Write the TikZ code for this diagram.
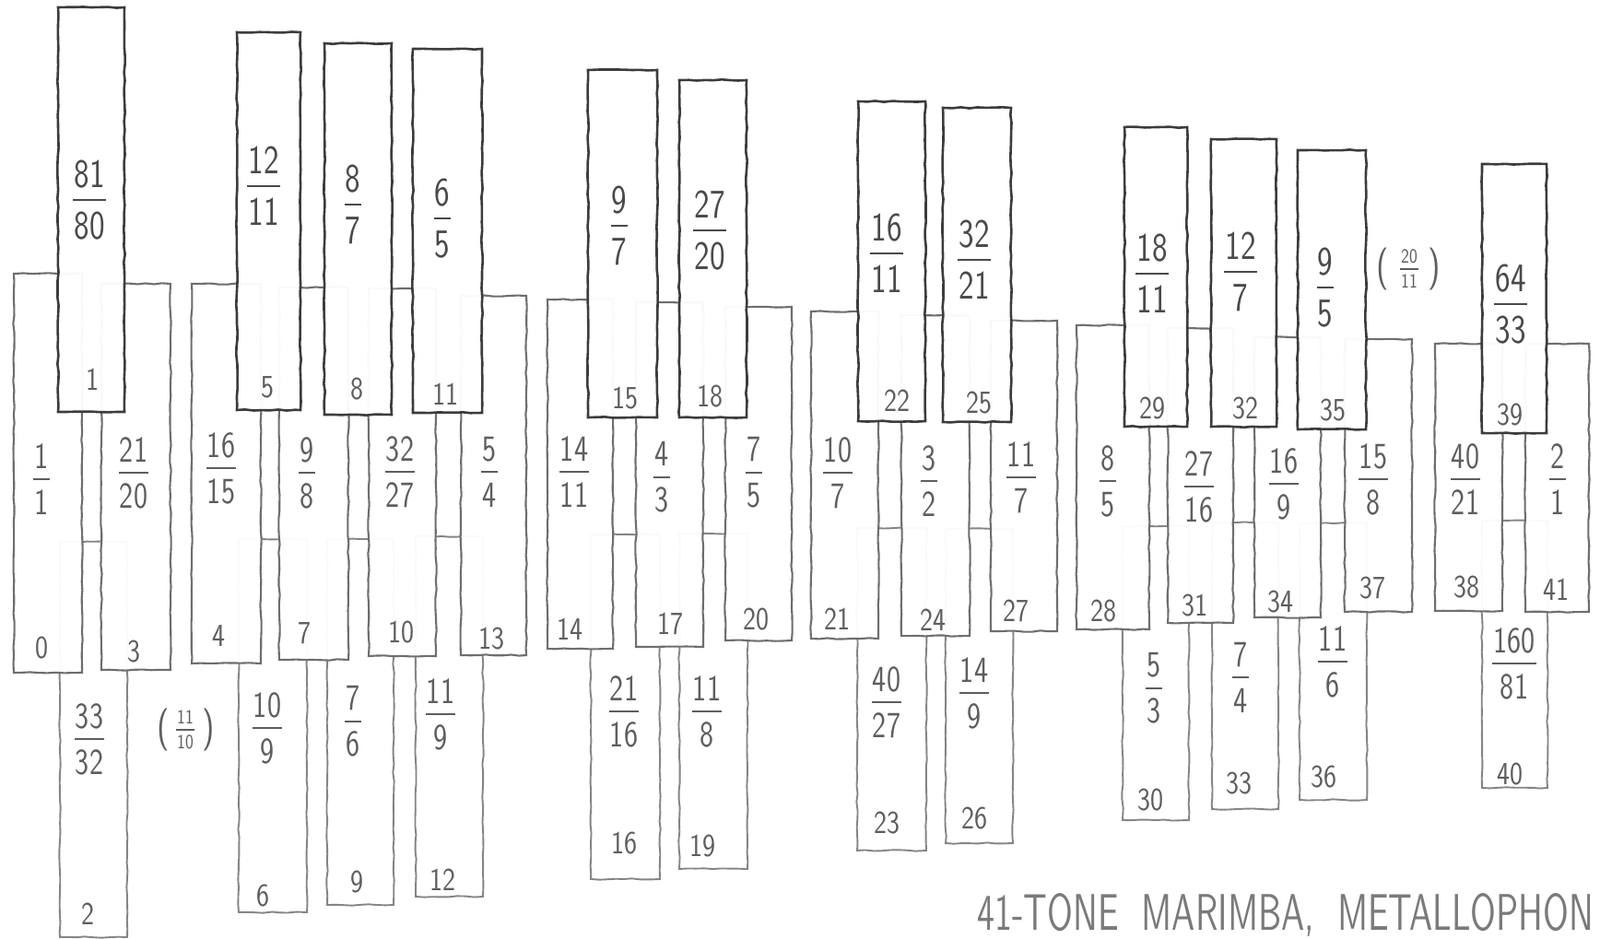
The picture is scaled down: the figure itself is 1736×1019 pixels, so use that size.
\documentclass[tikz,border=0pt]{standalone}
\usepackage{graphicx}
\usetikzlibrary{decorations.pathmorphing}
\definecolor{pencilA}{HTML}{3C3C3C}
\definecolor{pencilB}{HTML}{6E6E6E}
\definecolor{pencilC}{HTML}{858585}
\definecolor{textA}{HTML}{4A4A4A}
\definecolor{textB}{HTML}{5E5E5E}
\definecolor{textC}{HTML}{7A7A7A}
\tikzset{
 hand/.style={decorate, decoration={random steps, segment length=9pt, amplitude=0.7pt}},
 barbase/.style={rectangle, inner sep=0pt, outer sep=0pt, fill=white, fill opacity=0.96, hand},
 topbar/.style={barbase, draw=pencilA, line width=2.6pt},
 midbar/.style={barbase, draw=pencilB, line width=2.1pt},
 lowbar/.style={barbase, draw=pencilC, line width=1.9pt},
 fracA/.style={align=center, inner sep=0pt, xscale=0.8, text=textA, font=\sffamily\fontsize{44}{56}\selectfont},
 fracB/.style={align=center, inner sep=0pt, xscale=0.8, text=textB, font=\sffamily\fontsize{40}{50}\selectfont},
 fracS/.style={align=center, inner sep=0pt, xscale=0.85, text=textB, font=\sffamily\fontsize{22}{27}\selectfont},
 flineA/.style={draw=textA, line width=2.4pt},
 flineB/.style={draw=textB, line width=2pt},
 flineS/.style={draw=textB, line width=1.4pt},
 numlab/.style={inner sep=0pt, xscale=0.85, text=textB, font=\sffamily\fontsize{35}{40}\selectfont},
 paren/.style={inner sep=0pt, xscale=0.8, text=textB, font=\sffamily\fontsize{46}{50}\selectfont},
 titletext/.style={anchor=base west, inner sep=0pt, text=textC, font=\sffamily},
}
% style, name, xl, xr, yt, yb
\newcommand\mkbar[6]{%
  \pgfmathsetmacro\bw{#4-#3}\pgfmathsetmacro\bh{#6-#5}%
  \pgfmathsetmacro\bx{(#3+#4)/2}\pgfmathsetmacro\by{(#5+#6)/2}%
  \node[#1, minimum width=\bw pt, minimum height=\bh pt] (#2) at (\bx,\by) {};}
% style, linestyle, name, x, y, num, den
\newcommand\mkfrac[7]{%
  \node[#1] (#3) at (#4,#5) {#6\\#7};
  \draw[#2] ([xshift=-1pt]#3.west) -- ([xshift=1pt]#3.east);}
\begin{document}
\begin{tikzpicture}[x=1pt,y=-1pt]
\fill[white] (0,0) rectangle (1736,1019);
\useasboundingbox (0,0) rectangle (1736,1019);

% ---------- lower row ----------
\mkbar{lowbar}{b2}{65}{138}{588}{1017}
\mkbar{lowbar}{b6}{259}{333}{585}{990}
\mkbar{lowbar}{b9}{355}{427}{585}{982}
\mkbar{lowbar}{b12}{451}{524}{582}{973}
\mkbar{lowbar}{b16}{641}{716}{580}{954}
\mkbar{lowbar}{b19}{737}{811}{579}{943}
\mkbar{lowbar}{b23}{930}{1005}{573}{923}
\mkbar{lowbar}{b26}{1026}{1099}{574}{915}
\mkbar{lowbar}{b30}{1218}{1290}{571}{890}
\mkbar{lowbar}{b33}{1315}{1387}{567}{878}
\mkbar{lowbar}{b36}{1410}{1483}{568}{868}
\mkbar{lowbar}{b40}{1608}{1679}{565}{855}

\mkfrac{fracB}{flineB}{f2}{97}{802}{33}{32}
\mkfrac{fracB}{flineB}{f6}{290}{790}{10}{9}
\mkfrac{fracB}{flineB}{f9}{383}{783}{7}{6}
\mkfrac{fracB}{flineB}{f12}{478}{775}{11}{9}
\mkfrac{fracB}{flineB}{f16}{677}{772}{21}{16}
\mkfrac{fracB}{flineB}{f19}{767}{772}{11}{8}
\mkfrac{fracB}{flineB}{f23}{962}{762}{40}{27}
\mkfrac{fracB}{flineB}{f26}{1057}{752}{14}{9}
\mkfrac{fracB}{flineB}{f30}{1252}{747}{5}{3}
\mkfrac{fracB}{flineB}{f33}{1346}{735}{7}{4}
\mkfrac{fracB}{flineB}{f36}{1446}{718}{11}{6}
\mkfrac{fracB}{flineB}{f40}{1643}{720}{160}{81}

\node[numlab] (n2) at (95,992) {2};
\node[numlab] (n6) at (285,972) {6};
\node[numlab] (n9) at (387,957) {9};
\node[numlab] (n12) at (480,955) {12};
\node[numlab] (n16) at (677,915) {16};
\node[numlab] (n19) at (762,918) {19};
\node[numlab] (n23) at (962,893) {23};
\node[numlab] (n26) at (1057,888) {26};
\node[numlab] (n30) at (1248,868) {30};
\node[numlab] (n33) at (1344,850) {33};
\node[numlab] (n36) at (1436,843) {36};
\node[numlab] (n40) at (1638,840) {40};

% (11/10)
\mkfrac{fracS}{flineS}{fx1}{201}{792}{11}{10}
\node[paren] (px1l) at (177,792) {(};
\node[paren] (px1r) at (226,792) {)};

% ---------- middle row ----------
\mkbar{midbar}{b0}{15}{89}{297}{730}
\mkbar{midbar}{b3}{110}{185}{308}{727}
\mkbar{midbar}{b4}{208}{283}{308}{720}
\mkbar{midbar}{b7}{303}{378}{312}{716}
\mkbar{midbar}{b10}{400}{473}{313}{712}
\mkbar{midbar}{b13}{500}{571}{321}{711}
\mkbar{midbar}{b14}{594}{665}{325}{704}
\mkbar{midbar}{b17}{690}{763}{328}{702}
\mkbar{midbar}{b20}{787}{859}{333}{695}
\mkbar{midbar}{b21}{880}{953}{338}{693}
\mkbar{midbar}{b24}{978}{1052}{342}{690}
\mkbar{midbar}{b27}{1075}{1147}{348}{685}
\mkbar{midbar}{b28}{1168}{1247}{353}{683}
\mkbar{midbar}{b31}{1267}{1338}{356}{676}
\mkbar{midbar}{b34}{1361}{1433}{366}{670}
\mkbar{midbar}{b37}{1459}{1532}{368}{664}
\mkbar{midbar}{b38}{1557}{1630}{373}{663}
\mkbar{midbar}{b41}{1655}{1724}{373}{664}

\mkfrac{fracB}{flineB}{f0}{45}{520}{1}{1}
\mkfrac{fracB}{flineB}{f3}{145}{513}{21}{20}
\mkfrac{fracB}{flineB}{f4}{240}{508}{16}{15}
\mkfrac{fracB}{flineB}{f7}{333}{513}{9}{8}
\mkfrac{fracB}{flineB}{f10}{434}{512}{32}{27}
\mkfrac{fracB}{flineB}{f13}{531}{512}{5}{4}
\mkfrac{fracB}{flineB}{f14}{623}{512}{14}{11}
\mkfrac{fracB}{flineB}{f17}{718}{518}{4}{3}
\mkfrac{fracB}{flineB}{f20}{818}{513}{7}{5}
\mkfrac{fracB}{flineB}{f21}{909}{513}{10}{7}
\mkfrac{fracB}{flineB}{f24}{1008}{522}{3}{2}
\mkfrac{fracB}{flineB}{f27}{1108}{518}{11}{7}
\mkfrac{fracB}{flineB}{f28}{1202}{522}{8}{5}
\mkfrac{fracB}{flineB}{f31}{1301}{528}{27}{16}
\mkfrac{fracB}{flineB}{f34}{1393}{525}{16}{9}
\mkfrac{fracB}{flineB}{f37}{1490}{520}{15}{8}
\mkfrac{fracB}{flineB}{f38}{1590}{520}{40}{21}
\mkfrac{fracB}{flineB}{f41}{1690}{520}{2}{1}

\node[numlab] (n0) at (45,703) {0};
\node[numlab] (n3) at (145,707) {3};
\node[numlab] (n4) at (237,690) {4};
\node[numlab] (n7) at (330,687) {7};
\node[numlab] (n10) at (435,686) {10};
\node[numlab] (n13) at (533,693) {13};
\node[numlab] (n14) at (618,683) {14};
\node[numlab] (n17) at (727,677) {17};
\node[numlab] (n20) at (820,672) {20};
\node[numlab] (n21) at (908,672) {21};
\node[numlab] (n24) at (1012,673) {24};
\node[numlab] (n27) at (1102,663) {27};
\node[numlab] (n28) at (1197,663) {28};
\node[numlab] (n31) at (1296,657) {31};
\node[numlab] (n34) at (1389,653) {34};
\node[numlab] (n37) at (1489,638) {37};
\node[numlab] (n38) at (1591,637) {38};
\node[numlab] (n41) at (1688,640) {41};

% ---------- top row ----------
\mkbar{topbar}{b1}{63}{135}{8}{447}
\mkbar{topbar}{b5}{257}{326}{35}{445}
\mkbar{topbar}{b8}{352}{425}{47}{450}
\mkbar{topbar}{b11}{448}{523}{53}{448}
\mkbar{topbar}{b15}{638}{713}{76}{453}
\mkbar{topbar}{b18}{737}{810}{87}{453}
\mkbar{topbar}{b22}{931}{1004}{110}{457}
\mkbar{topbar}{b25}{1023}{1097}{117}{458}
\mkbar{topbar}{b29}{1220}{1288}{138}{463}
\mkbar{topbar}{b32}{1314}{1385}{151}{463}
\mkbar{topbar}{b35}{1408}{1482}{163}{466}
\mkbar{topbar}{b39}{1608}{1678}{178}{470}

\mkfrac{fracA}{flineA}{f1}{97}{217}{81}{80}
\mkfrac{fracA}{flineA}{f5}{286}{202}{12}{11}
\mkfrac{fracA}{flineA}{f8}{383}{222}{8}{7}
\mkfrac{fracA}{flineA}{f11}{480}{237}{6}{5}
\mkfrac{fracA}{flineA}{f15}{672}{245}{9}{7}
\mkfrac{fracA}{flineA}{f18}{770}{250}{27}{20}
\mkfrac{fracA}{flineA}{f22}{962}{275}{16}{11}
\mkfrac{fracA}{flineA}{f25}{1057}{282}{32}{21}
\mkfrac{fracA}{flineA}{f29}{1250}{297}{18}{11}
\mkfrac{fracA}{flineA}{f32}{1346}{295}{12}{7}
\mkfrac{fracA}{flineA}{f35}{1438}{312}{9}{5}
\mkfrac{fracA}{flineA}{f39}{1639}{330}{64}{33}

\node[numlab] (n1) at (100,412) {1};
\node[numlab] (n5) at (290,420) {5};
\node[numlab] (n8) at (387,422) {8};
\node[numlab] (n11) at (483,428) {11};
\node[numlab] (n15) at (678,432) {15};
\node[numlab] (n18) at (770,430) {18};
\node[numlab] (n22) at (973,435) {22};
\node[numlab] (n25) at (1062,437) {25};
\node[numlab] (n29) at (1250,443) {29};
\node[numlab] (n32) at (1351,443) {32};
\node[numlab] (n35) at (1446,445) {35};
\node[numlab] (n39) at (1638,450) {39};

% (20/11)
\mkfrac{fracS}{flineS}{fx2}{1529}{292}{20}{11}
\node[paren] (px2l) at (1500,292) {(};
\node[paren] (px2r) at (1556,292) {)};

% ---------- title ----------
\node[titletext] (ttl) at (1060,1009) {\resizebox{669pt}{40pt}{41-TONE\ \ MARIMBA,\ \ METALLOPHON}};
\end{tikzpicture}
\end{document}
